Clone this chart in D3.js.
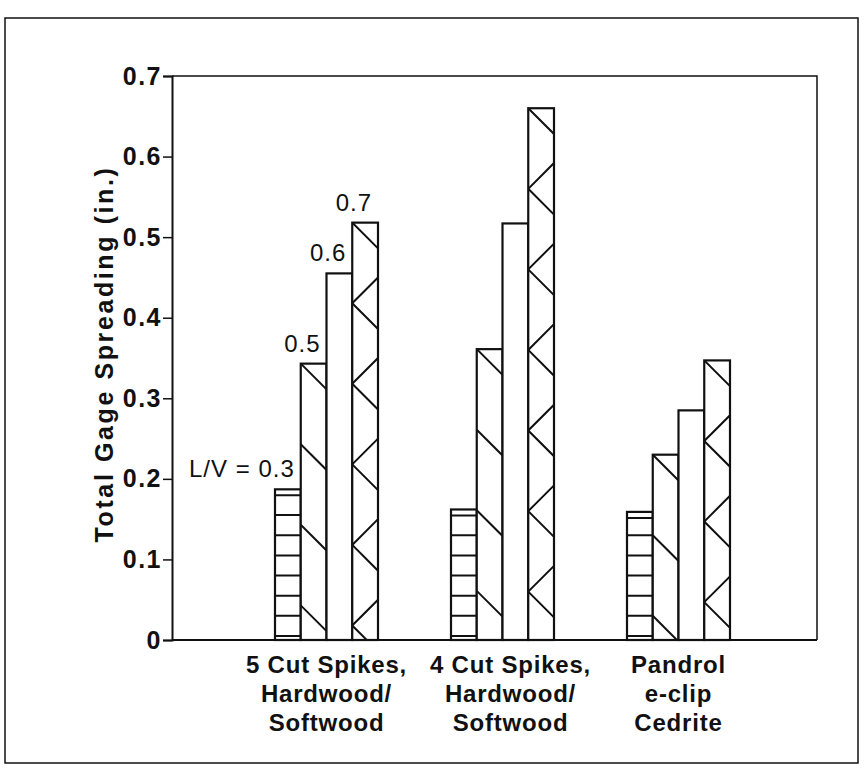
<!DOCTYPE html>
<html>
<head>
<meta charset="utf-8">
<script src="https://cdn.jsdelivr.net/npm/d3@7"></script>
<style>
  body { margin: 0; background: #fff; }
  svg { display: block; font-family: "Liberation Sans", Arial, sans-serif; }
</style>
</head>
<body>
<div id="chart"></div>
<script>
// values
const groups = ["5 Cut Spikes,|Hardwood/|Softwood", "4 Cut Spikes,|Hardwood/|Softwood", "Pandrol|e-clip|Cedrite"];
const ratios = ["0.3", "0.5", "0.6", "0.7"];
const spread = [
    [0.187, 0.343, 0.455, 0.518],
    [0.162, 0.361, 0.517, 0.660],
    [0.159, 0.230, 0.285, 0.347]
];
const patterns = ["hlines", "diag", "none", "zigzag"];
const yTicks = [0, 0.1, 0.2, 0.3, 0.4, 0.5, 0.6, 0.7];

const width = 865, height = 772;
const plot = { left: 172, top: 76, right: 817, bottom: 640 };

const svg = d3.select("#chart").append("svg")
    .attr("width", width)
    .attr("height", height);

// outer frame of the figure
svg.append("rect")
    .attr("x", 5).attr("y", 18)
    .attr("width", 853).attr("height", 745)
    .attr("fill", "none").attr("stroke", "#111").attr("stroke-width", 1.5);

const y = d3.scaleLinear().domain([0, 0.7]).range([plot.bottom, plot.top]);
const x0 = d3.scaleBand().domain(groups).range([238.5, 766.5]);
const x1 = d3.scaleBand().domain(ratios).range([0, 103]);
const off = (x0.bandwidth() - 103) / 2;

// plot box (top / right)
svg.append("path")
    .attr("d", `M${plot.left},${plot.top}H${plot.right}V${plot.bottom}`)
    .attr("fill", "none").attr("stroke", "#111").attr("stroke-width", 1.5);

const bars = [];
groups.forEach((g, gi) => {
    ratios.forEach((r, ri) => {
        bars.push({ g, gi, r, ri, v: spread[gi][ri], pat: patterns[ri] });
    });
});

const barG = svg.append("g");
const defs = svg.append("defs");

bars.forEach((d, i) => {
    const bx = x0(d.g) + off + x1(d.r);
    const bw = x1.bandwidth();
    const top = y(d.v), base = y(0);
    const clipId = "clip" + i;
    defs.append("clipPath").attr("id", clipId)
        .append("rect").attr("x", bx).attr("y", top).attr("width", bw).attr("height", base - top);

    const b = barG.append("g");
    b.append("rect")
        .attr("x", bx).attr("y", top)
        .attr("width", bw).attr("height", base - top)
        .attr("fill", "#fff");

    const p = b.append("g").attr("clip-path", `url(#${clipId})`)
        .attr("stroke", "#111").attr("stroke-width", 2).attr("fill", "none");

    if (d.pat === "hlines") {
        // lines every 0.025 from the base, plus one just under the top
        for (let k = 0; k * 0.025 + 0.005 < d.v - 0.012; k++) {
            const ly = y(k * 0.025 + 0.005);
            p.append("line").attr("x1", bx).attr("x2", bx + bw).attr("y1", ly).attr("y2", ly);
        }
        p.append("line").attr("x1", bx).attr("x2", bx + bw)
            .attr("y1", top + 6).attr("y2", top + 6);
    } else if (d.pat === "diag") {
        for (let v = d.v; v > 0; v -= 0.1) {
            p.append("line").attr("x1", bx).attr("y1", y(v))
                .attr("x2", bx + bw).attr("y2", y(v) + bw);
        }
    } else if (d.pat === "zigzag") {
        for (let v = d.v; v > -0.05; v -= 0.1) {
            p.append("path")
                .attr("d", `M${bx + bw},${y(v) - bw}L${bx},${y(v)}L${bx + bw},${y(v) + bw}`);
        }
    }

    b.append("rect")
        .attr("x", bx).attr("y", top)
        .attr("width", bw).attr("height", base - top)
        .attr("fill", "none").attr("stroke", "#111").attr("stroke-width", 2.2);
});

// ratio labels above the first group
const first = bars.filter(d => d.gi === 0);
svg.append("g").selectAll("text")
    .data(first)
    .join("text")
    .attr("x", d => x0(d.g) + off + x1(d.r) + x1.bandwidth() - 6)
    .attr("y", d => y(d.v) - 12)
    .attr("text-anchor", "end")
    .attr("font-size", 24)
    .attr("letter-spacing", 1)
    .attr("fill", "#111")
    .text(d => d.ri === 0 ? "L/V = " + d.r : d.r);

// y axis
const yAxis = d3.axisLeft(y)
    .tickValues(yTicks)
    .tickFormat(d => d === 0 ? "0" : d3.format(".1f")(d))
    .tickSizeOuter(0)
    .tickSize(9)
    .tickPadding(1);
const ya = svg.append("g")
    .attr("transform", `translate(${plot.left},0)`)
    .call(yAxis);
ya.select(".domain").attr("stroke", "#111").attr("stroke-width", 2);
ya.selectAll(".tick line").attr("stroke", "#111").attr("stroke-width", 1.5);
ya.selectAll(".tick text")
    .attr("font-size", 25).attr("font-weight", "bold").attr("fill", "#111")
    .attr("letter-spacing", 1.5)
    .attr("font-family", "Liberation Sans, Arial, sans-serif");

// x axis line
svg.append("line")
    .attr("x1", plot.left).attr("x2", plot.right)
    .attr("y1", plot.bottom).attr("y2", plot.bottom)
    .attr("stroke", "#111").attr("stroke-width", 2);

// category labels
const labelShift = [0, 8, 0];
const cat = svg.append("g").selectAll("text")
    .data(groups)
    .join("text")
    .attr("text-anchor", "middle")
    .attr("font-size", 24)
    .attr("font-weight", "bold")
    .attr("letter-spacing", 0.8)
    .attr("fill", "#111");
cat.each(function (g, gi) {
    const t = d3.select(this);
    g.split("|").forEach((line, i) => {
        t.append("tspan")
            .attr("x", x0(g) + x0.bandwidth() / 2 + labelShift[gi])
            .attr("y", 673 + i * 29)
            .text(line);
    });
});

// y title
svg.append("text")
    .attr("transform", "translate(113,354) rotate(-90)")
    .attr("text-anchor", "middle")
    .attr("font-size", 25)
    .attr("font-weight", "bold")
    .attr("letter-spacing", 2.6)
    .attr("fill", "#111")
    .text("Total Gage Spreading (in.)");
</script>
</body>
</html>
